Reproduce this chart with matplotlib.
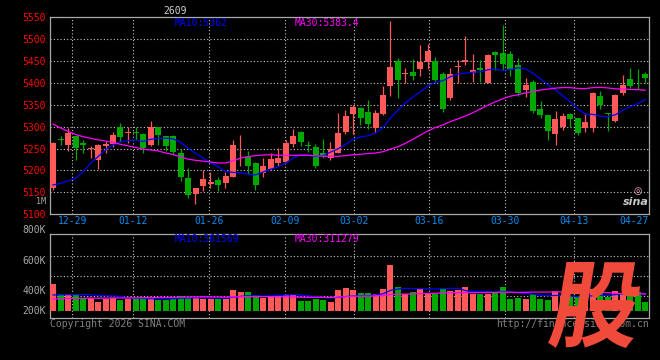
import matplotlib
matplotlib.use('Agg')
import matplotlib.pyplot as plt
import numpy as np
import pandas as pd
from matplotlib.textpath import TextPath
from matplotlib.patches import PathPatch
from matplotlib.font_manager import FontProperties
from matplotlib.transforms import Affine2D, ScaledTranslation

W, H = 660, 360

# daily bars in the window, oldest first (12-24 ... 04-24)
opens = [5159, 5271, 5258, 5279, 5262, 5250, 5224, 5256, 5260, 5300,
         5285, 5287, 5283, 5258, 5300, 5279, 5279, 5241, 5183, 5146,
         5164, 5170, 5178, 5171, 5186, 5248, 5230, 5216, 5195, 5203,
         5216, 5220, 5261, 5288, 5258, 5253, 5240, 5228, 5241, 5289,
         5329, 5342, 5333, 5296, 5328, 5393, 5450, 5420, 5425, 5432,
         5447, 5450, 5420, 5365, 5437, 5447, 5424, 5434, 5401, 5470,
         5469, 5466, 5441, 5384, 5403, 5341, 5327, 5283, 5300, 5329,
         5319, 5297, 5298, 5370, 5331, 5313, 5377, 5409, 5400, 5420]
highs = [5264, 5279, 5296, 5281, 5270, 5256, 5260, 5267, 5289, 5309,
         5300, 5300, 5286, 5313, 5300, 5279, 5281, 5248, 5205, 5161,
         5200, 5197, 5186, 5197, 5269, 5281, 5245, 5220, 5229, 5240,
         5251, 5270, 5295, 5291, 5268, 5261, 5271, 5264, 5331, 5338,
         5350, 5344, 5361, 5338, 5393, 5542, 5457, 5434, 5455, 5487,
         5489, 5459, 5426, 5434, 5453, 5507, 5466, 5452, 5466, 5473,
         5533, 5473, 5458, 5411, 5407, 5359, 5327, 5335, 5331, 5332,
         5321, 5331, 5380, 5382, 5332, 5374, 5418, 5434, 5432, 5426]
lows = [5156, 5258, 5245, 5224, 5240, 5229, 5203, 5239, 5254, 5266,
        5262, 5270, 5239, 5257, 5258, 5244, 5235, 5177, 5138, 5124,
        5154, 5161, 5154, 5161, 5184, 5211, 5193, 5155, 5184, 5201,
        5211, 5216, 5254, 5257, 5243, 5206, 5228, 5224, 5239, 5283,
        5283, 5304, 5294, 5286, 5327, 5371, 5365, 5399, 5407, 5415,
        5431, 5399, 5333, 5360, 5399, 5441, 5403, 5403, 5399, 5430,
        5430, 5415, 5370, 5369, 5331, 5321, 5270, 5258, 5293, 5300,
        5281, 5287, 5289, 5340, 5290, 5311, 5373, 5388, 5386, 5399]
closes = [5263, 5269, 5286, 5252, 5258, 5252, 5258, 5261, 5281, 5277,
          5288, 5285, 5252, 5300, 5280, 5257, 5243, 5184, 5144, 5161,
          5180, 5174, 5167, 5187, 5258, 5250, 5211, 5167, 5210, 5226,
          5229, 5263, 5279, 5265, 5256, 5211, 5232, 5249, 5286, 5325,
          5344, 5319, 5306, 5331, 5373, 5437, 5406, 5423, 5415, 5449,
          5473, 5406, 5341, 5420, 5439, 5452, 5430, 5430, 5464, 5463,
          5443, 5430, 5377, 5396, 5336, 5327, 5290, 5318, 5325, 5318,
          5286, 5310, 5377, 5350, 5329, 5373, 5396, 5394, 5399, 5411]
volumes = [459000, 289000, 272000, 272000, 226000, 216000, 158000, 204000, 216000, 182000,
           204000, 204000, 243000, 243000, 187000, 187000, 243000, 260000, 243000, 243000,
           204000, 204000, 204000, 204000, 357000, 328000, 328000, 272000, 226000, 260000,
           272000, 272000, 272000, 170000, 170000, 204000, 187000, 158000, 357000, 396000,
           357000, 301000, 301000, 289000, 374000, 782000, 413000, 284000, 318000, 386000,
           301000, 284000, 374000, 340000, 357000, 408000, 284000, 284000, 284000, 301000,
           408000, 204000, 226000, 204000, 284000, 204000, 187000, 340000, 272000, 238000,
           255000, 238000, 374000, 306000, 238000, 340000, 306000, 340000, 323000, 148000]

# sessions before the window, only used to start the moving averages
prev_closes = [5535, 5520, 5465, 5410, 5360, 5370, 5340, 5390, 5395, 5395,
               5390, 5370, 5360, 5340, 5400, 5345, 5350, 5300, 5240, 5240,
               5234, 5231, 5192, 5108, 5062, 5103, 5106, 5171, 5200]
prev_volumes = [180000, 165000, 172000, 158000, 176000, 169000, 183000, 161000, 174000, 166000,
                171000, 178000, 160000, 168000, 175000, 163000, 170000, 172000, 167000, 182000,
                240000, 262000, 255000, 238000, 249000, 270000, 245000, 252000, 250000]

date_labels = ['12-29', '01-12', '01-26', '02-09', '03-02', '03-16', '03-30', '04-13', '04-27']
price_ticks = [5550, 5500, 5450, 5400, 5350, 5300, 5250, 5200, 5150, 5100]
vol_labels = ['800K', '600K', '400K', '200K']

RED = '#ff5858'
GREEN = '#00a800'
GRID = '#c8c8c8'
FRAME = '#a8a8a8'
MONO = 'DejaVu Sans Mono'

n = len(closes)
x = np.arange(n)
o = np.array(opens, float)
c = np.array(closes, float)
up = c >= o
colors = np.where(up, RED, GREEN)

allc = pd.Series(prev_closes + closes, dtype=float)
ma10 = allc.rolling(10).mean().values[len(prev_closes):]
ma30 = allc.rolling(30).mean().values[len(prev_closes):]
allv = pd.Series(prev_volumes + volumes, dtype=float)
vma10 = allv.rolling(10).mean().values[len(prev_volumes):]
vma30 = allv.rolling(30).mean().values[len(prev_volumes):]

# one candle step is 7.5 px; grid columns
def col(px):
    return (px - 53) / 7.5

grid_cols = [col(p) for p in (72.3, 133.3, 209.3, 285.3, 353.7, 429.3, 505.3, 574.3)]
tick_cols = grid_cols + [col(634)]
xlim = (col(50), col(649))

fig = plt.figure(figsize=(W / 100, H / 100), dpi=100, facecolor='black')

def fpos(px, py):
    return px / W, 1 - py / H

# ---- price panel
ax = fig.add_axes([50 / W, 1 - 214.2 / H, 599 / W, 196.8 / H], facecolor='black')
ax.set_xlim(*xlim)
ax.set_ylim(5100, 5550)
for p in price_ticks[1:-1]:
    ax.axhline(p, color=GRID, lw=0.8, ls=(0, (1, 2)), zorder=1)
for g in grid_cols:
    ax.axvline(g, color=GRID, lw=0.8, ls=(0, (1, 2)), zorder=1)

ax.vlines(x, lows, highs, colors=colors, lw=0.9, zorder=3)
body = np.maximum(np.abs(c - o), 1.6)
ax.bar(x, body, bottom=np.minimum(o, c), width=0.8, color=colors, lw=0, zorder=4)
ax.plot(x, ma10, color='#0000ff', lw=0.9, zorder=5)
ax.plot(x, ma30, color='#ff00ff', lw=0.9, zorder=5)

ax.set_yticks(price_ticks)
ax.set_yticklabels([str(p) for p in price_ticks], color='#ff0000', family=MONO, fontsize=7)
up2 = ScaledTranslation(0, 2 / 100, fig.dpi_scale_trans)
for lab in ax.get_yticklabels():
    lab.set_transform(lab.get_transform() + up2)
ax.set_xticks(tick_cols)
ax.set_xticklabels(date_labels, color='#0a8cf0', family=MONO, fontsize=7)
ax.tick_params(length=0, pad=3)
ax.tick_params(axis='x', pad=1.5)
for s in ax.spines.values():
    s.set_color(FRAME)
    s.set_linewidth(0.9)

ax.text((175 - 50) / 599, 1 - (23.3 - 17.4) / 196.8, 'MA10:5362', transform=ax.transAxes,
        color='#0000ff', family=MONO, fontsize=7, va='center', ha='left')
ax.text((295 - 50) / 599, 1 - (23.3 - 17.4) / 196.8, 'MA30:5383.4', transform=ax.transAxes,
        color='#ff00ff', family=MONO, fontsize=7, va='center', ha='left')

# ---- volume panel
px_vol = 17000.0
vax = fig.add_axes([50 / W, 1 - 318.3 / H, 599 / W, 84 / H], facecolor='black')
vax.set_xlim(*xlim)
vax.set_ylim(-7.3 * px_vol, 76.7 * px_vol)
for py in (255.7, 275.7, 295.7):
    vax.axhline((311 - py) * px_vol, color=GRID, lw=0.8, ls=(0, (1, 2)), zorder=1)
for g in grid_cols:
    vax.axvline(g, color=GRID, lw=0.8, ls=(0, (1, 2)), zorder=1)
vax.bar(x, volumes, width=0.8, color=colors, lw=0, zorder=3)
vax.plot(x, vma10, color='#0000ff', lw=0.9, zorder=4)
vax.plot(x, vma30, color='#ff00ff', lw=0.9, zorder=4)
vax.set_xticks([])
vax.set_yticks([])
for s in vax.spines.values():
    s.set_color(FRAME)
    s.set_linewidth(0.9)
vax.text((175 - 50) / 599, 1 - (239 - 234.3) / 84, 'MA10:361569', transform=vax.transAxes,
         color='#0000ff', family=MONO, fontsize=7, va='center', ha='left')
vax.text((295 - 50) / 599, 1 - (239 - 234.3) / 84, 'MA30:311279', transform=vax.transAxes,
         color='#ff00ff', family=MONO, fontsize=7, va='center', ha='left')

# ---- loose texts
for lab, py in zip(vol_labels, (230.5, 260.5, 290.5, 310.5)):
    fig.text(*fpos(46, py), lab, color='#a8a8a8', family=MONO, fontsize=7, ha='right', va='center')
fig.text(*fpos(46, 201.3), '1M', color='#a8a8a8', family=MONO, fontsize=6, ha='right', va='center')
fig.text(*fpos(175, 10.5), '2609', color='#d0d0d0', family=MONO, fontsize=7, ha='center', va='center')
fig.text(*fpos(50, 324), 'Copyright 2026 SINA.COM', color='#808080', family=MONO, fontsize=7,
         ha='left', va='center')
fig.text(*fpos(649, 324), 'http://finance.sina.com.cn', color='#808080', family=MONO, fontsize=7,
         ha='right', va='center')
fig.text(*fpos(636, 202), 'sina', color='#c8c8c8', family='DejaVu Sans', fontsize=8,
         fontweight='bold', style='italic', ha='center', va='center')
fig.text(*fpos(638, 191), '◎', color='#ffb4b4', family='DejaVu Sans', fontsize=7,
         ha='center', va='center')

# ---- big watermark glyph
fp = FontProperties(family='Noto Sans CJK SC', weight='bold')
tp = TextPath((0, 0), '股', size=100, prop=fp)
x0, x1, top, bot = 548, 640, 262, 348
tp2 = Affine2D().skew_deg(10, 0).transform_path(tp)
e2 = tp2.get_extents()
sx = (x1 - x0) / e2.width
sy = (bot - top) / e2.height
tr = Affine2D().translate(-e2.x0, -e2.y0).scale(sx, sy).translate(x0, H - bot)
fig.add_artist(PathPatch(tr.transform_path(tp2), facecolor='#f04a3a', edgecolor='none',
                         transform=Affine2D(), zorder=10))

fig.savefig('out.png', dpi=100, facecolor='black')
